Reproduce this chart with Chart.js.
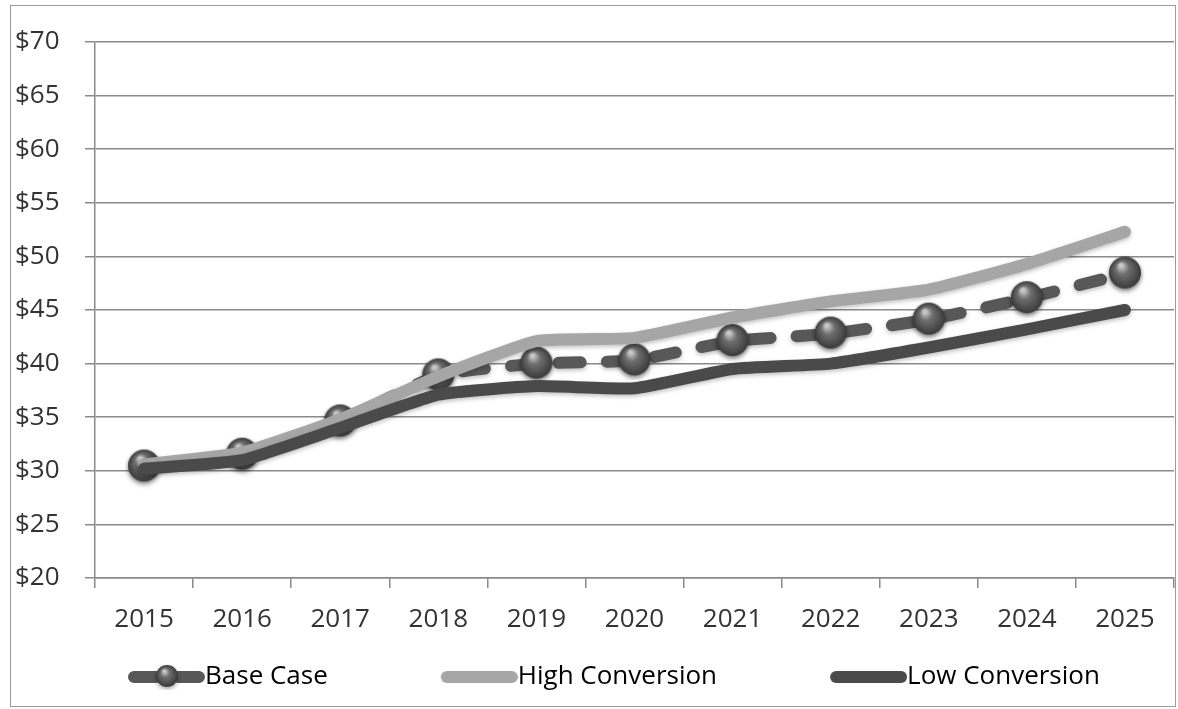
<!DOCTYPE html>
<html>
<head>
<meta charset="utf-8">
<script src="https://cdn.jsdelivr.net/npm/chart.js@4.4.1/dist/chart.umd.min.js"></script>
<style>
  html, body { margin: 0; padding: 0; background: #fff; }
  #wrap { position: relative; width: 1178px; height: 709px; }
</style>
</head>
<body>
<div id="wrap"><canvas id="priceChart" width="1178" height="709"></canvas></div>
<script>
const years = ["2015", "2016", "2017", "2018", "2019", "2020", "2021", "2022", "2023", "2024", "2025"];
const baseCase = [30.4, 31.5, 34.6, 38.9, 40.0, 40.3, 42.1, 42.8, 44.1, 46.1, 48.4];
const highConversion = [30.6, 31.7, 34.8, 38.8, 42.1, 42.4, 44.3, 45.8, 46.9, 49.3, 52.3];
const lowConversion = [30.2, 31.0, 34.0, 37.1, 37.9, 37.7, 39.5, 40.0, 41.5, 43.2, 45.0];
const yTicks = { min: 20, max: 70, step: 5 };

const FONT = "'Open Sans', 'Noto Sans', sans-serif";
const FONT_SIZE = 26;
const LEGEND_LEAD = 121;    // blank space left of each legend sample
const LEGEND_PAD = 5;

function makeSphere(r) {
  const c = document.createElement("canvas");
  const size = Math.ceil(r * 2 + 8);
  c.width = size;
  c.height = size;
  const g = c.getContext("2d");
  const cx = size / 2, cy = size / 2 - 1;
  g.save();
  g.shadowColor = "rgba(0,0,0,0.35)";
  g.shadowBlur = 4;
  g.shadowOffsetY = 2;
  const grad = g.createRadialGradient(cx - r * 0.25, cy - r * 0.45, r * 0.1, cx, cy, r);
  grad.addColorStop(0, "#c8c8c8");
  grad.addColorStop(0.35, "#6e6e6e");
  grad.addColorStop(1, "#3a3a3a");
  g.fillStyle = grad;
  g.beginPath();
  g.arc(cx, cy, r, 0, Math.PI * 2);
  g.fill();
  g.restore();
  return c;
}

// legend sample: 77px line at the right end of the image, blank lead space before it
function makeLegendLine(color, withMarker) {
  const c = document.createElement("canvas");
  c.width = 77 + LEGEND_LEAD;
  c.height = 26;
  const g = c.getContext("2d");
  const x0 = LEGEND_LEAD;
  g.lineCap = "round";
  g.lineWidth = 12;
  g.strokeStyle = color;
  g.beginPath();
  if (withMarker) {
    g.moveTo(x0 + 6, 13); g.lineTo(x0 + 28, 13);
    g.moveTo(x0 + 50, 13); g.lineTo(x0 + 71, 13);
  } else {
    g.moveTo(x0 + 6, 13); g.lineTo(x0 + 71, 13);
  }
  g.stroke();
  if (withMarker) {
    const s = makeSphere(11);
    g.drawImage(s, x0 + 39 - s.width / 2, 13 - s.height / 2);
  }
  return c;
}

const sphere = makeSphere(16);

const frame = {
  id: "frame",
  afterDraw(chart) {
    const ctx = chart.ctx;
    ctx.save();
    ctx.strokeStyle = "#9a9a9a";
    ctx.lineWidth = 1;
    ctx.strokeRect(10.5, 5.5, 1165, 701);
    ctx.restore();
  }
};

const lineShadow = {
  id: "lineShadow",
  beforeDatasetDraw(chart) {
    const ctx = chart.ctx;
    ctx.save();
    ctx.shadowColor = "rgba(0,0,0,0.25)";
    ctx.shadowBlur = 4;
    ctx.shadowOffsetY = 2;
  },
  afterDatasetDraw(chart) {
    chart.ctx.restore();
  }
};

new Chart(document.getElementById("priceChart"), {
  type: "line",
  data: {
    labels: years,
    datasets: [
      {
        label: "Base Case",
        data: baseCase,
        borderColor: "#585858",
        borderWidth: 12,
        borderDash: [22, 26],
        borderCapStyle: "round",
        tension: 0.15,
        pointStyle: sphere,
        pointRadius: 16,
        order: 3,
        legendImage: makeLegendLine("#585858", true)
      },
      {
        label: "High Conversion",
        data: highConversion,
        borderColor: "#a6a6a6",
        borderWidth: 12,
        borderCapStyle: "round",
        borderJoinStyle: "round",
        tension: 0.15,
        pointRadius: 0,
        order: 2,
        legendImage: makeLegendLine("#a6a6a6", false)
      },
      {
        label: "Low Conversion",
        data: lowConversion,
        borderColor: "#4a4a4a",
        borderWidth: 12,
        borderCapStyle: "round",
        borderJoinStyle: "round",
        tension: 0.15,
        pointRadius: 0,
        order: 1,
        legendImage: makeLegendLine("#4a4a4a", false)
      }
    ]
  },
  options: {
    responsive: false,
    animation: false,
    layout: { autoPadding: false, padding: { left: 15, right: 4, top: 42, bottom: 9 } },
    plugins: {
      tooltip: { enabled: false },
      legend: {
        position: "bottom",
        align: "start",
        labels: {
          usePointStyle: true,
          pointStyleWidth: 77 + LEGEND_LEAD - FONT_SIZE,
          boxHeight: 24,
          padding: LEGEND_PAD,
          color: "#333",
          font: { family: FONT, size: FONT_SIZE },
          generateLabels(chart) {
            return chart.data.datasets.map((ds, i) => ({
              text: ds.label,
              pointStyle: ds.legendImage,
              fillStyle: ds.borderColor,
              strokeStyle: ds.borderColor,
              lineWidth: 0,
              datasetIndex: i,
              hidden: false
            }));
          }
        }
      }
    },
    scales: {
      x: {
        offset: true,
        afterFit(scale) {
          scale.height = 81;
          scale.paddingLeft = 0;
          scale.paddingRight = 0;
        },
        grid: {
          offset: true,
          drawOnChartArea: false,
          tickLength: 10,
          color: "#8a8a8a",
          lineWidth: 1.5
        },
        border: { color: "#8a8a8a", width: 1.5 },
        ticks: {
          color: "#333",
          padding: 16,
          maxRotation: 0,
          font: { family: FONT, size: FONT_SIZE }
        }
      },
      y: {
        min: yTicks.min,
        max: yTicks.max,
        afterFit(scale) { scale.width = 80; },
        grid: {
          color: "#8a8a8a",
          lineWidth: 1.5,
          tickLength: 10
        },
        border: { color: "#8a8a8a", width: 1.5 },
        ticks: {
          stepSize: yTicks.step,
          crossAlign: "far",
          color: "#333",
          font: { family: FONT, size: FONT_SIZE },
          callback: (v) => "$" + v
        }
      }
    }
  },
  plugins: [frame, lineShadow]
});
</script>
</body>
</html>
